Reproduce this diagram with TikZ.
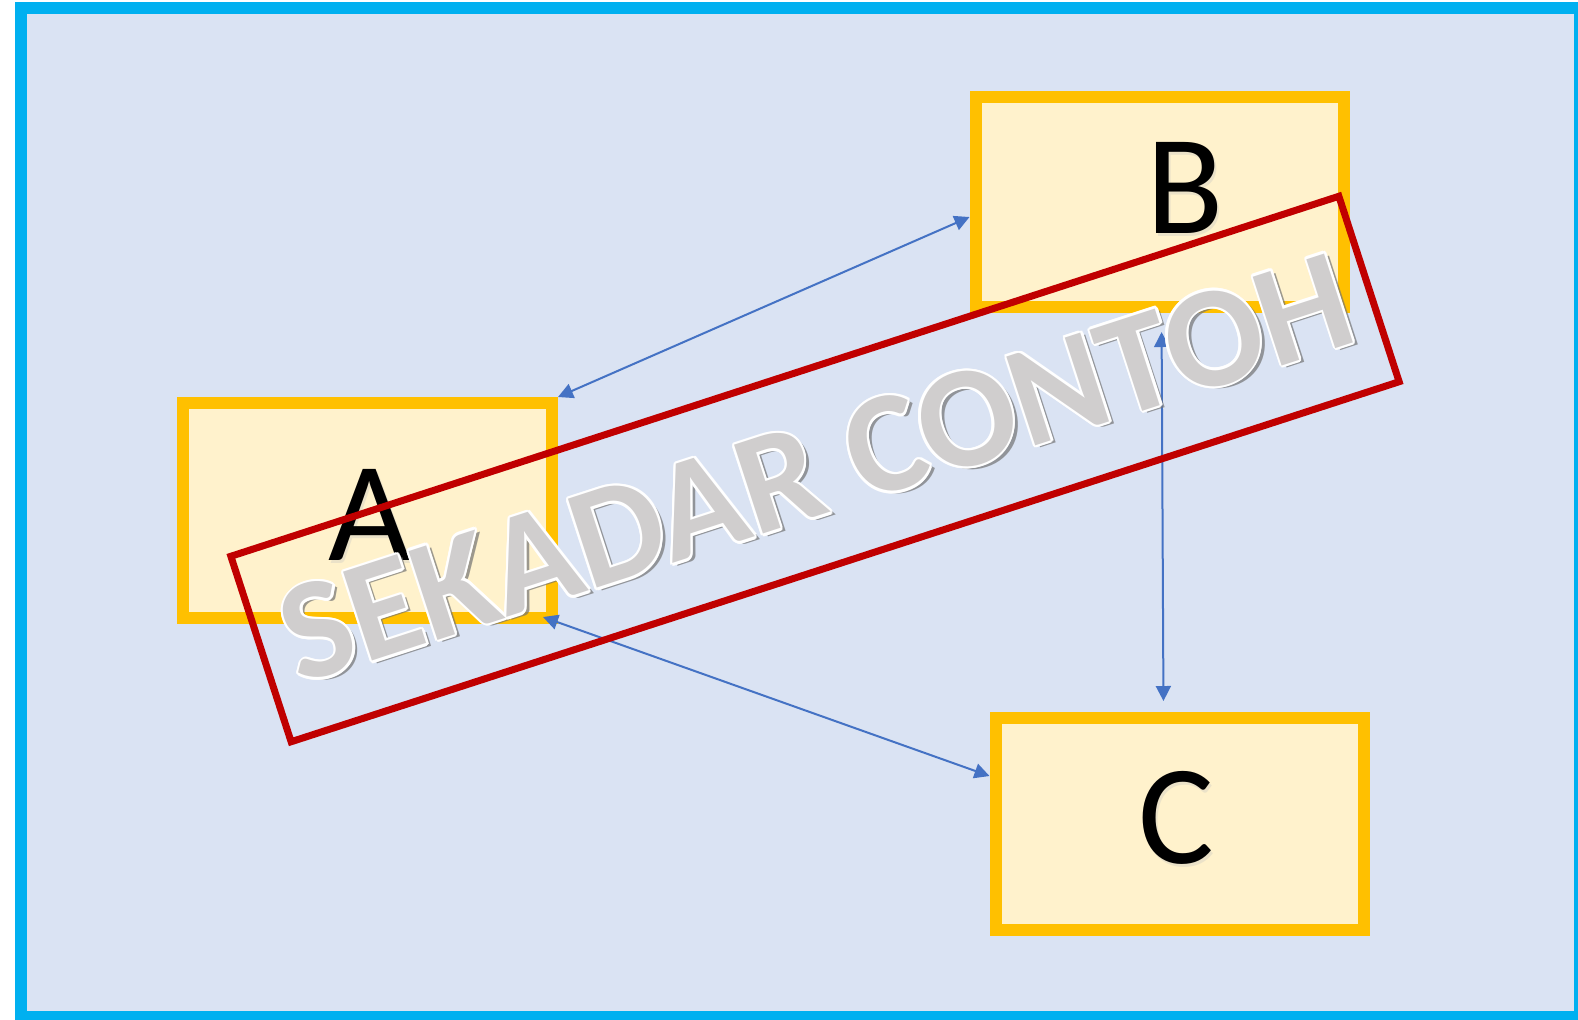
\documentclass[tikz,border=0pt]{standalone}
\usepackage{fontspec}
\setmainfont{Carlito}[BoldFont={Carlito Bold}]
\usetikzlibrary{arrows.meta,positioning}
\definecolor{bgblue}{HTML}{DAE3F3}
\definecolor{framecyan}{HTML}{00B0F0}
\definecolor{boxline}{HTML}{FFC000}
\definecolor{boxfill}{HTML}{FFF2CC}
\definecolor{linkblue}{HTML}{4472C4}
\definecolor{stampred}{HTML}{C00000}
\definecolor{stampgray}{HTML}{D0CECE}

\begin{document}
\begin{tikzpicture}[x=0.5pt,y=-0.5pt,
    box/.style={draw=boxline,fill=boxfill,line width=6pt,minimum width=184pt,minimum height=106pt},
    letter/.style={font=\fontsize{71pt}{80pt}\selectfont,inner sep=0pt},
    link/.style={draw=linkblue,line width=1pt,{Triangle[length=7.5pt,width=7.5pt]}-{Triangle[length=7.5pt,width=7.5pt]}},
    stamptext/.style={font=\bfseries\fontsize{72pt}{80pt}\selectfont,rotate=18,inner sep=0pt}]
    \useasboundingbox (0,0) rectangle (1578,1019);
    \fill[white] (0,0) rectangle (1578,1019);
    \draw[framecyan,fill=bgblue,line width=6pt] (21,8) rectangle (1580,1017);

    \node[box,minimum width=184.5pt,minimum height=107.5pt](A) at (367.5,510.5){};
    \node[box,minimum height=105pt](B) at (1159.5,202){};
    \node[box](C) at (1179.5,824){};

    \node[letter,text=black!25,opacity=.3,shift={(1pt,-1.5pt)}] at (370,515){A};
    \node[letter](la) at (370,515){A};
    \node[letter,text=black!25,opacity=.3,shift={(1pt,-1.5pt)}] at (1185,188){B};
    \node[letter](lb) at (1185,188){B};
    \node[letter,text=black!25,opacity=.3,shift={(1pt,-1.5pt)}] at (1176,818){C};
    \node[letter](lc) at (1176,818){C};

    \draw[link] (A.north east) -- ([yshift=-7.5pt]B.west);
    \draw[link] ([shift={(-7.5pt,3.5pt)}]A.south east) -- ([yshift=24pt]C.west);
    \draw[link,shorten <=9.5pt,shorten >=5.5pt] ([xshift=1pt]B.south) -- ([xshift=-8pt]C.north);

    % watermark
    \node[draw=stampred,line width=3.5pt,minimum width=582.5pt,minimum height=97.5pt,rotate=18](stamp) at (815,469){};
    \node[stamptext,text=black!55,opacity=.7,shift={(2pt,-2pt)}] at (816,468){SEKADAR CONTOH};
    \foreach \a in {0,30,...,330}
        \node[stamptext,text=white,shift={(\a:1.2pt)}] at (816,468){SEKADAR CONTOH};
    \node[stamptext,text=stampgray](stamplabel) at (816,468){SEKADAR CONTOH};
\end{tikzpicture}
\end{document}
